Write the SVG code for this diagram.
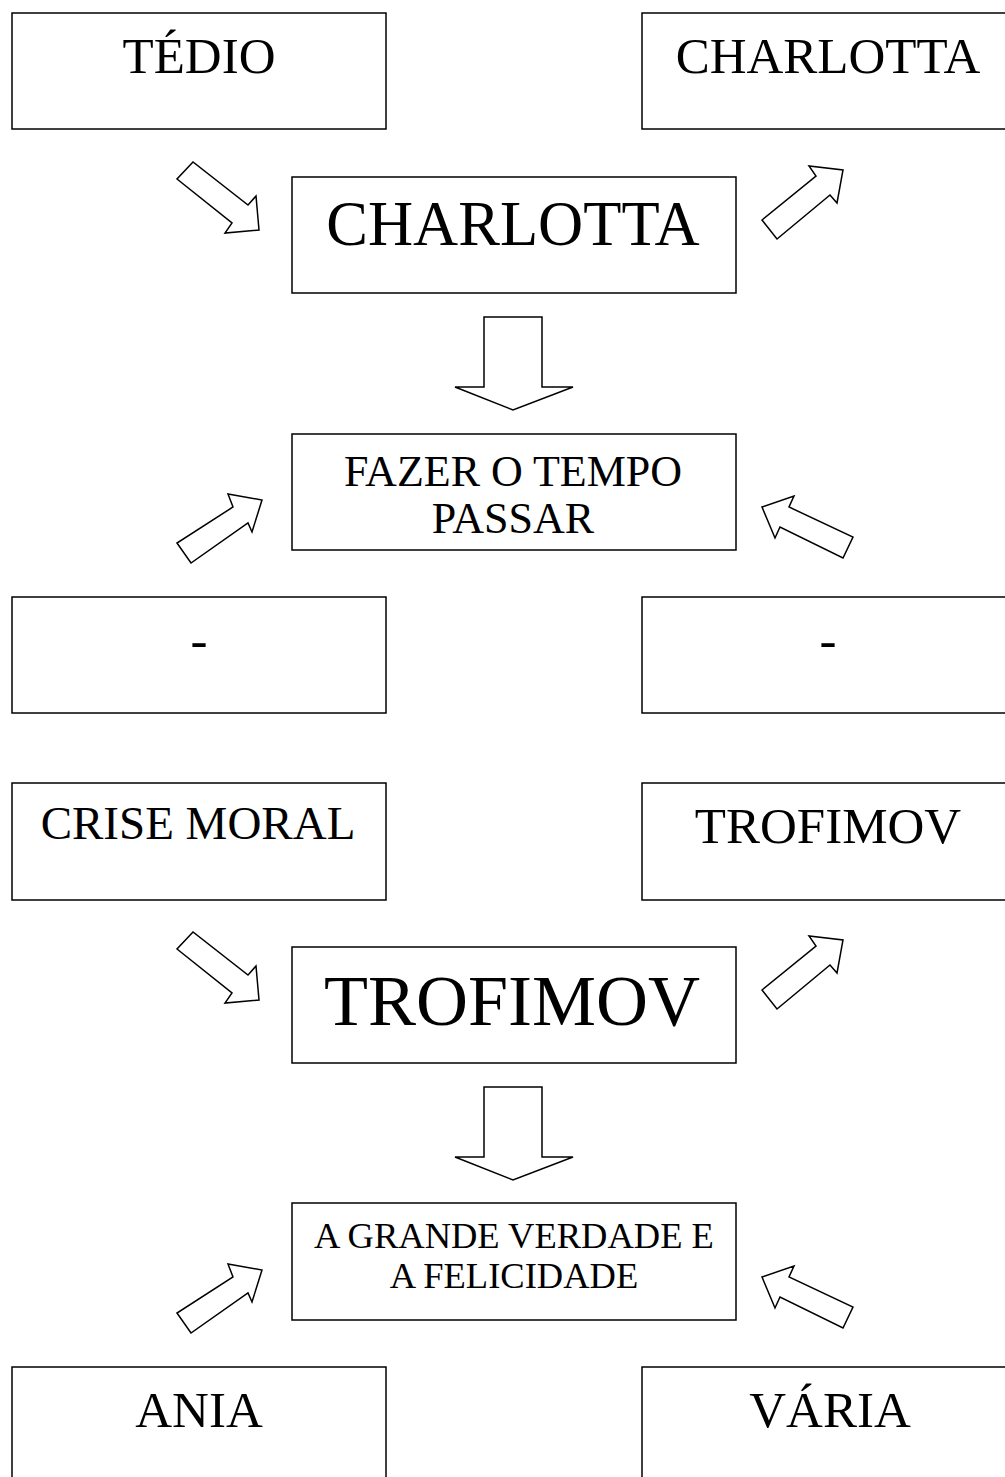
<svg xmlns="http://www.w3.org/2000/svg" width="1005" height="1477" viewBox="0 0 1005 1477">
<style>
.box{fill:#fff;stroke:#000;stroke-width:1.5}
.arr{fill:#fff;stroke:#000;stroke-width:1.5;stroke-linejoin:miter}
text{font-family:"Liberation Serif","Times New Roman",serif;fill:#000;text-anchor:middle}
.t51{font-size:51px}
</style>
<rect width="1005" height="1477" fill="#fff"/>
<g id="connectors">
  <polygon class="arr" points="193,162 177,179 232,223 225,233 259,230 256,196 248,205"/>
  <polygon class="arr" points="762,220 777,239 830,195 837,203 843,170 809,166 816,176"/>
  <polygon class="arr" points="484,317 542,317 542,387 573,387 513,410 455,387 484,387"/>
  <polygon class="arr" points="177,543 191,563 248,523 252,532 262,500 228,494 233,507"/>
  <polygon class="arr" points="762,507 794,496 789,507 853,537 843,558 780,527 775,538"/>
  <polygon class="arr" points="193,932 177,949 232,993 225,1003 259,1000 256,966 248,975"/>
  <polygon class="arr" points="762,990 777,1009 830,965 837,973 843,940 809,936 816,946"/>
  <polygon class="arr" points="484,1087 542,1087 542,1157 573,1157 513,1180 455,1157 484,1157"/>
  <polygon class="arr" points="177,1313 191,1333 248,1293 252,1302 262,1270 228,1264 233,1277"/>
  <polygon class="arr" points="762,1277 794,1266 789,1277 853,1307 843,1328 780,1297 775,1308"/>
</g>
<g id="tedio"><rect class="box" x="12" y="13" width="374" height="116"/><text class="t51" x="199" y="73">TÉDIO</text></g>
<g id="charlotta-top"><rect class="box" x="642" y="13" width="380" height="116"/><text class="t51" x="828" y="73">CHARLOTTA</text></g>
<g id="charlotta"><rect class="box" x="292" y="177" width="444" height="116"/><text x="513" y="245" font-size="62.5">CHARLOTTA</text></g>
<g id="fazer"><rect class="box" x="292" y="434" width="444" height="116"/><text x="513" y="486" font-size="44">FAZER O TEMPO</text><text x="513" y="533" font-size="44">PASSAR</text></g>
<g id="dash-left"><rect class="box" x="12" y="597" width="374" height="116"/><text class="t51" x="199" y="657">-</text></g>
<g id="dash-right"><rect class="box" x="642" y="597" width="380" height="116"/><text class="t51" x="828" y="657">-</text></g>
<g id="crise"><rect class="box" x="12" y="783" width="374" height="117"/><text x="198" y="839" font-size="47">CRISE MORAL</text></g>
<g id="trofimov-right"><rect class="box" x="642" y="783" width="380" height="117"/><text class="t51" x="828" y="843">TROFIMOV</text></g>
<g id="trofimov"><rect class="box" x="292" y="947" width="444" height="116"/><text x="512" y="1025" font-size="72">TROFIMOV</text></g>
<g id="verdade"><rect class="box" x="292" y="1203" width="444" height="117"/><text x="514" y="1248" font-size="36.5">A GRANDE VERDADE E</text><text x="514" y="1288" font-size="36.5">A FELICIDADE</text></g>
<g id="ania"><rect class="box" x="12" y="1367" width="374" height="130"/><text class="t51" x="199" y="1427">ANIA</text></g>
<g id="varia"><rect class="box" x="642" y="1367" width="380" height="130"/><text class="t51" x="830" y="1427">VÁRIA</text></g>
</svg>
